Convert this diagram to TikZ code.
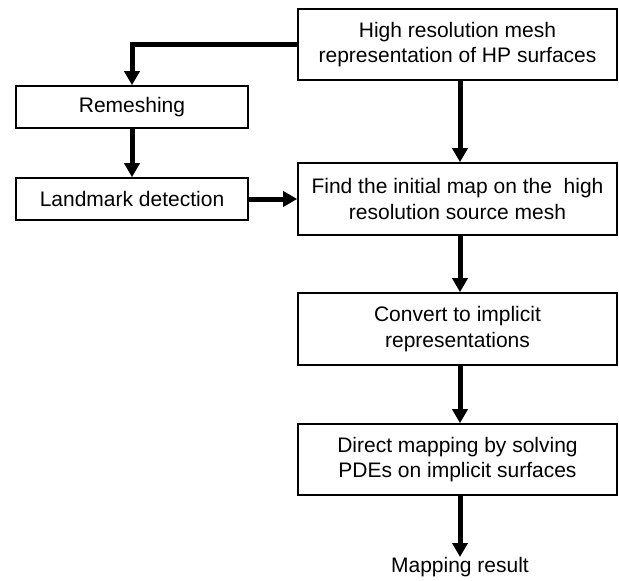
\documentclass[tikz,border=0pt]{standalone}
\usepackage{fontspec}
\setmainfont{Liberation Sans}
\usetikzlibrary{arrows.meta}
\begin{document}
\begin{tikzpicture}[x=1pt,y=-1pt,
  box/.style={draw, line width=1.6pt, minimum width=319pt, minimum height=71pt,
    align=center, font=\fontsize{21}{25.5}\selectfont, inner sep=0pt},
  sbox/.style={box, minimum width=232pt, minimum height=42pt},
  flow/.style={line width=5pt, -{Triangle[length=14pt,width=15pt]}}]
\useasboundingbox (0,0) rectangle (619,581);
\node[box] (b1) at (457.5,44.5) {High resolution mesh\\representation of HP surfaces};
\node[sbox] (rem) at (132,107) {Remeshing};
\node[sbox] (land) at (132,199) {Landmark detection};
\node[box, minimum height=72pt] (find) at (457.5,199) {Find the initial map on the\ \ high\\resolution source mesh};
\node[box, minimum height=72pt] (conv) at (457.5,329) {Convert to implicit\\representations};
\node[box] (dir) at (457.5,459.5) {Direct mapping by solving\\PDEs on implicit surfaces};
\node[font=\fontsize{21}{25.5}\selectfont, inner sep=0pt, anchor=north] (res) at (460,557) {Mapping result};
\draw[flow] (b1.west) -| (rem.north);
\draw[flow] (rem) -- (land);
\draw[flow] (land) -- (find);
\draw[flow] (b1.south -| 460,0) -- (find.north -| 460,0);
\draw[flow] (find.south -| 460,0) -- (conv.north -| 460,0);
\draw[flow] (conv.south -| 460,0) -- (dir.north -| 460,0);
\draw[flow] (dir.south -| 460,0) -- (res.north -| 460,0);
\end{tikzpicture}
\end{document}
